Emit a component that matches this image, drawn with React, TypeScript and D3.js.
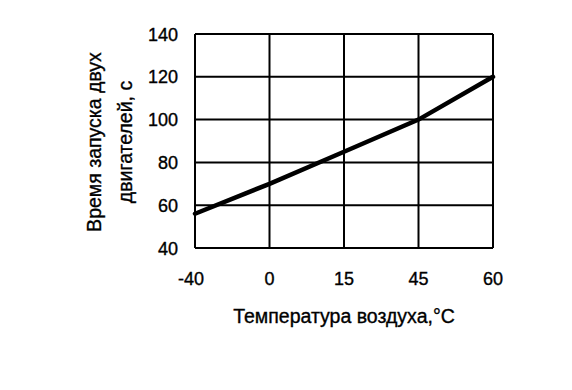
import React from 'react';
import * as d3 from 'd3';

// air temperature categories (axis is not linear in the original)
const temperatures = ['-40', '0', '15', '45', '60'];
const startTimes = [56, 70, 85, 100, 120];
const yTicks = [40, 60, 80, 100, 120, 140];

const xTitle = 'Температура воздуха,°С';
const yTitleLines = ['Время запуска двух', 'двигателей, с'];

const width = 572;
const height = 390;
const margin = { left: 195, right: 79, top: 34, bottom: 142 };
const font = 'Liberation Sans, Arial, sans-serif';

export default function App() {
  const x = d3.scalePoint<string>()
    .domain(temperatures)
    .range([margin.left, width - margin.right]);

  const y = d3.scaleLinear()
    .domain([40, 140])
    .range([height - margin.bottom, margin.top]);

  const line = d3.line<number>()
    .x((d, i) => x(temperatures[i]) as number)
    .y((d) => y(d));

  const x0 = x.range()[0], x1 = x.range()[1];
  const y0 = y.range()[0], y1 = y.range()[1];

  // slightly heavier text, the scan looks bolder than plain Arial
  const textStyle = { fontFamily: font, fill: '#000', stroke: '#000', strokeWidth: 0.35 };

  return (
    <svg width={width} height={height} xmlns="http://www.w3.org/2000/svg"
      style={{ position: 'absolute', left: 0, top: 0, background: '#fff' }}>
      <rect x={0} y={0} width={width} height={height} fill="#fff" />
      {/* grid */}
      {yTicks.map((v) =>
        <line key={`gy_${v}`} x1={x0} x2={x1} y1={y(v)} y2={y(v)} stroke="#000" strokeWidth={2} />
      )}
      {temperatures.map((t) =>
        <line key={`gx_${t}`} x1={x(t)} x2={x(t)} y1={y0} y2={y1} stroke="#000" strokeWidth={2} />
      )}
      {/* data line */}
      <path d={line(startTimes) || ''} fill="none" stroke="#000" strokeWidth={4.5} strokeLinecap="round" />
      {/* tick labels */}
      {yTicks.map((v) =>
        <text key={`ty_${v}`} x={x0 - 17} y={y(v) + 6.5} textAnchor="end"
          fontSize={18} {...textStyle}>{v}</text>
      )}
      {temperatures.map((t) =>
        <text key={`tx_${t}`} x={(x(t) as number) + (t === '-40' ? -4 : 0)} y={285} textAnchor="middle"
          fontSize={18} {...textStyle}>{t}</text>
      )}
      {/* axis titles */}
      <text x={344} y={323} textAnchor="middle" fontSize={19.5} {...textStyle}>{xTitle}</text>
      {yTitleLines.map((s, i) =>
        <text key={`yt_${i}`} transform={`translate(${101 + i * 31}, 142) rotate(-90)`} textAnchor="middle"
          fontSize={19.5} {...textStyle}>{s}</text>
      )}
    </svg>
  );
}
